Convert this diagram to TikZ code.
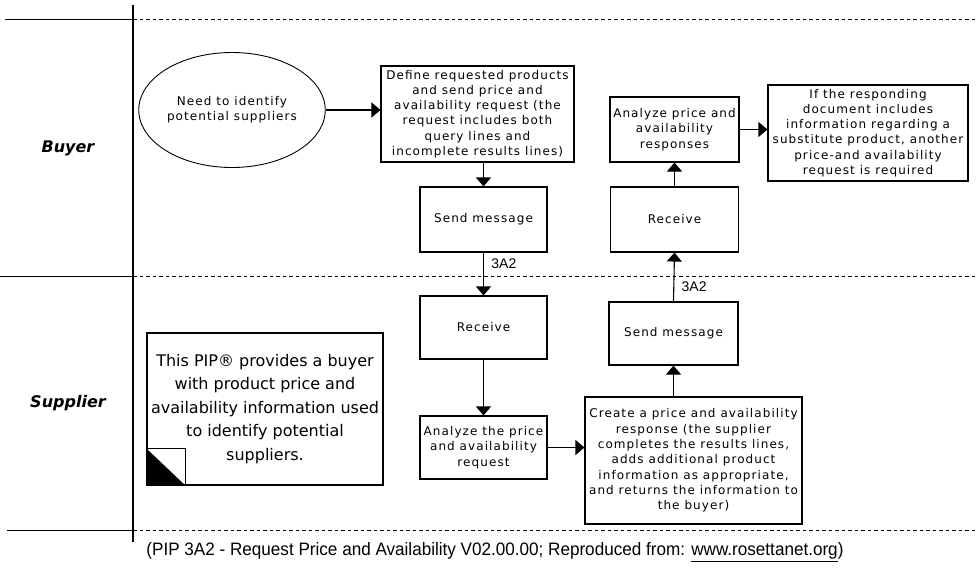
\documentclass[tikz,border=0pt]{standalone}
\usepackage{fontspec}
\usepackage{tikz}
\usetikzlibrary{arrows.meta,calc,positioning,shapes.geometric}
\newfontfamily\boxfont[LetterSpace=9]{DejaVu Sans}
\newfontfamily\notefont{DejaVu Sans}
\newfontfamily\capfont{Liberation Sans}
\tikzset{%
	block/.style    = {draw, rectangle, line width=1.1pt, inner sep=1pt, align=center, font=\boxfont\fontsize{12}{15.3}\selectfont},
	event/.style    = {draw, ellipse, line width=0.9pt, inner sep=1pt, align=center, font=\boxfont\fontsize{12}{15.3}\selectfont}, % Start
	note/.style     = {draw, rectangle, line width=1.1pt, inner sep=2pt, align=center, font=\notefont\fontsize{16}{23.5}\selectfont},
	lane/.style     = {font=\notefont\bfseries\itshape\fontsize{16}{18}\selectfont}, % Role
	msg/.style      = {font=\capfont\fontsize{14}{16}\selectfont, xshift=4pt},
	arrow/.style    = {line width=1.1pt, -{Triangle[width=15pt,length=9pt]}},
	border/.style   = {line width=0.8pt},
	divider/.style  = {line width=0.8pt, dash pattern=on 3.5pt off 3pt},
}

\begin{document}
\begin{tikzpicture}[x=1pt,y=-1pt]
	\useasboundingbox (0,0) rectangle (977,571);
	% swim lanes
	\draw[line width=1.2pt] (133,5) -- (133,542);
	\draw[border] (5,19) -- (133,19);
	\draw[divider] (133,19) -- (977,19);
	\draw[border] (0,276) -- (133,276);
	\draw[divider] (133,276) -- (977,276);
	\draw[border] (7,530) -- (133,530);
	\draw[divider] (133,530) -- (977,530);
	\node[lane] (buyer) at (68,148) {Buyer};
	\node[lane] (supplier) at (68,403) {Supplier};
	
	\node[event, minimum width=159pt, minimum height=115pt] (need) at (232,110) {Need to identify\\potential suppliers};
	\node[block, minimum width=193pt, minimum height=96pt] (define) at (477.5,114) {Define requested products\\and send price and\\availability request (the\\request includes both\\query lines and\\incomplete results lines)};
	\node[block, minimum width=127pt, minimum height=65pt] (sendb) at (483.5,219.5) {Send message};
	\node[block, minimum width=129pt, minimum height=65pt] (anresp) at (674.5,129.5) {Analyze price and\\availability\\responses};
	\node[block, minimum width=128pt, minimum height=65pt] (recb) [below of=anresp, node distance=90pt] {Receive};
	\node[block, minimum width=200pt, minimum height=96pt] (ifbox) at (868,133) {If the responding\\document includes\\information regarding a\\substitute product, another\\price-and availability\\request is required};
	
	\node[block, minimum width=127pt, minimum height=63pt] (recs) at (483.5,327.5) {Receive};
	\node[block, minimum width=127pt, minimum height=63pt] (anreq) [below of=recs, node distance=120pt] {Analyze the price\\and availability\\request};
	\node[block, minimum width=217pt, minimum height=127pt] (create) at (693.5,460.5) {Create a price and availability\\response (the supplier\\completes the results lines,\\adds additional product\\information as appropriate,\\and returns the information to\\the buyer)};
	\node[block, minimum width=129pt, minimum height=63pt] (sends) at (673.5,333.5) {Send message};
	
	\node[note, minimum width=236pt, minimum height=152pt] (pip) at (265,409) {This PIP® provides a buyer\\with product price and\\availability information used\\to identify potential\\suppliers.};
	\fill (pip.south west) -- ++(0,-37) -- ++(39,37) -- cycle;
	\draw[line width=1pt] (pip.south west) ++(0,-37) -- ++(39,0) -- ++(0,37);
	
	\draw[arrow] (need.east) -- (need.east -| define.west);
	\draw[arrow] (define.south -| sendb) -- (sendb.north);
	\draw[arrow] (sendb.south) -- node[msg,right,pos=0.25] {3A2} (recs.north);
	\draw[arrow] (recs.south) -- (anreq.north);
	\draw[arrow] (anreq.east) -- (anreq.east -| create.west);
	\draw[arrow] (create.north -| sends) -- (sends.south);
	\draw[arrow] (sends.north) -- node[msg,right,pos=0.3] {3A2} (recb.south);
	\draw[arrow] (recb.north) -- (anresp.south);
	\draw[arrow] (anresp.east) -- (anresp.east -| ifbox.west);
	
	\node (caption) at (495,552) {\capfont\fontsize{18}{20}\selectfont\scalebox{0.95}[1]{(PIP 3A2 - Request Price and Availability V02.00.00; Reproduced from: \underline{www.rosettanet.org})}};
\end{tikzpicture}
\end{document}
